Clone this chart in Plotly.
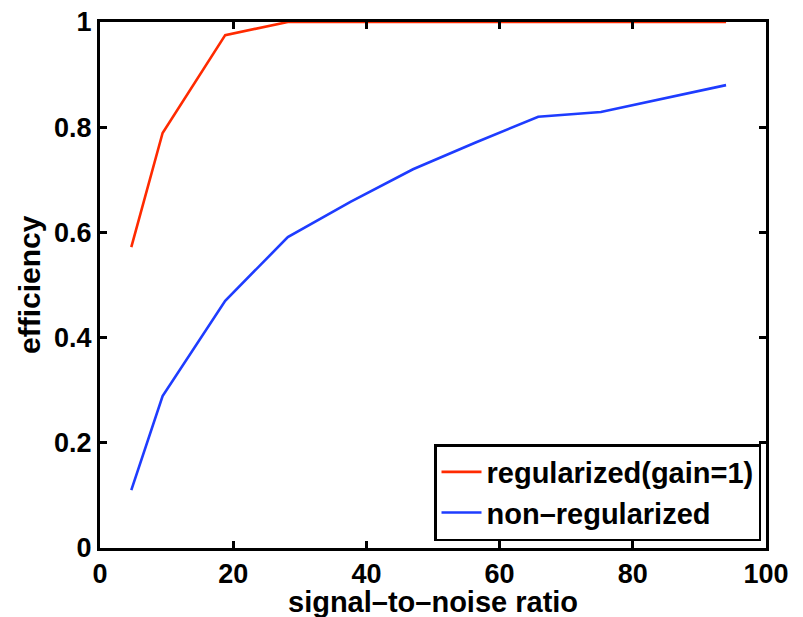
import plotly.graph_objects as go

snr = [4.7, 9.4, 18.8, 28.2, 37.6, 47.0, 56.4, 65.8, 75.2, 84.6, 94.0]
regularized = [0.572, 0.789, 0.975, 1.0, 1.0, 1.0, 1.0, 1.0, 1.0, 1.0, 1.0]
non_regularized = [0.110, 0.289, 0.470, 0.591, 0.658, 0.720, 0.771, 0.820, 0.829, 0.855, 0.880]

x_ticks = [0, 20, 40, 60, 80, 100]
y_ticks = [0, 0.2, 0.4, 0.6, 0.8, 1]
y_ticklabels = ["0", "0.2", "0.4", "0.6", "0.8", "1"]

x_title = "signal\u2013to\u2013noise ratio"
y_title = "efficiency"

FONT = "Liberation Sans, Arial, Helvetica, sans-serif"

fig = go.Figure()
fig.add_trace(go.Scatter(x=snr, y=regularized, mode="lines", name="regularized(gain=1)",
                         line=dict(color="#FF2A00", width=2.6)))
fig.add_trace(go.Scatter(x=snr, y=non_regularized, mode="lines", name="non\u2013regularized",
                         line=dict(color="#1E3CFF", width=2.6)))

axis_common = dict(showgrid=False, zeroline=False, showline=True, linecolor="black", linewidth=3,
                   mirror="ticks", ticks="inside", ticklen=7, tickwidth=2.5, tickcolor="black",
                   automargin=False,
                   tickfont=dict(family=FONT, size=27, color="black", weight="bold"))

fig.update_layout(
    width=803, height=617,
    margin=dict(l=100, r=37, t=22, b=69),
    paper_bgcolor="white", plot_bgcolor="white",
    font=dict(family=FONT, color="black", weight="bold"),
    xaxis=dict(range=[0, 100], tickvals=x_ticks, ticktext=[str(v) for v in x_ticks], **axis_common),
    yaxis=dict(range=[0, 1], tickvals=y_ticks, ticktext=y_ticklabels, **axis_common),
    legend=dict(x=0.9925, y=0.0133, xanchor="right", yanchor="bottom",
                bgcolor="white", bordercolor="black", borderwidth=2.5,
                font=dict(family=FONT, size=29, color="black", weight="bold"),
                tracegroupgap=0, itemwidth=40),
    showlegend=True,
    annotations=[
        dict(text=x_title, xref="paper", yref="paper", x=0.5, y=-0.102,
             xanchor="center", yanchor="middle", showarrow=False,
             font=dict(family=FONT, size=29, color="black", weight="bold")),
        dict(text=y_title, xref="paper", yref="paper", x=-0.1066, y=0.5, textangle=-90,
             xanchor="center", yanchor="middle", showarrow=False,
             font=dict(family=FONT, size=30, color="black", weight="bold")),
    ],
)

fig.write_html("out.html")
